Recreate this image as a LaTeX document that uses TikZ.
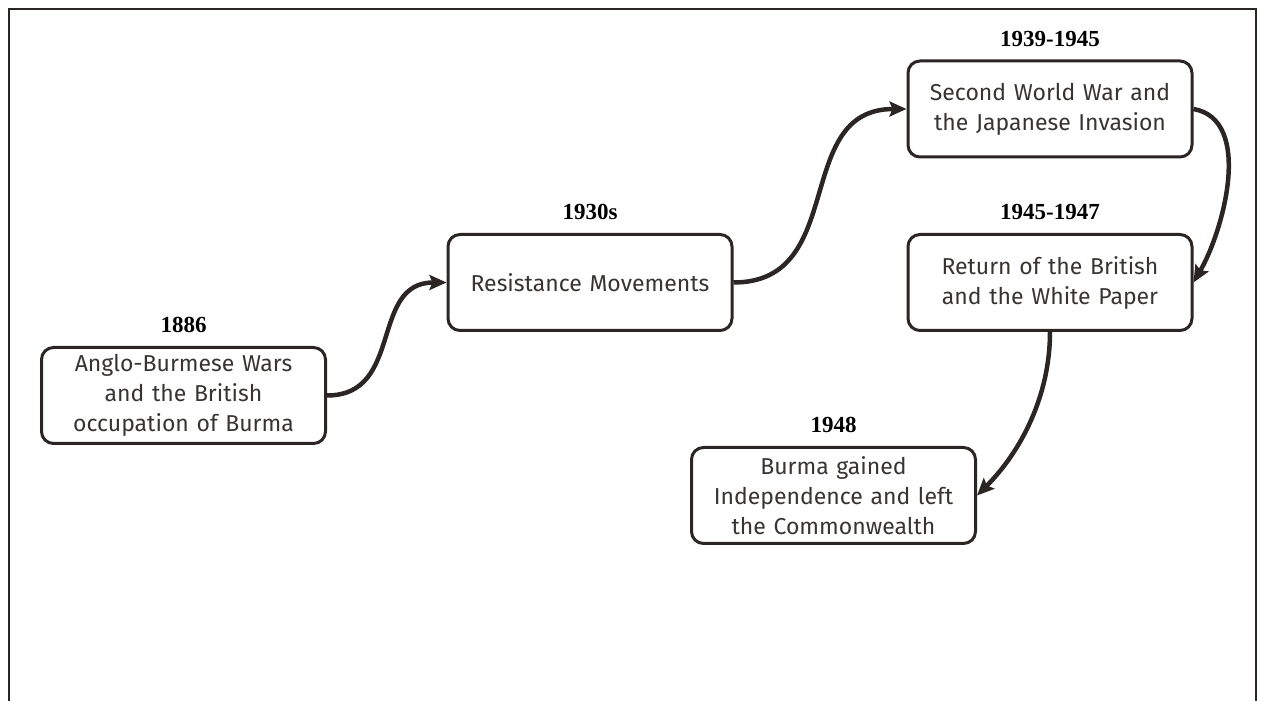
\documentclass[tikz,border=0pt]{standalone}
\usepackage{fontspec}
\setmainfont{Fira Sans}
\newfontfamily\yearfont{Liberation Serif}
\usetikzlibrary{positioning, arrows.meta}
\definecolor{ink}{RGB}{43, 38, 35}
\definecolor{words}{RGB}{55, 52, 50}

\begin{document}
\begin{tikzpicture}[x=1pt, y=1pt,
    event/.style={draw=ink, line width=3pt, rounded corners=12pt,
        minimum width=284pt, minimum height=96pt, text width=276pt,
        align=center, text=words, font=\fontsize{23}{30}\selectfont},
    year/.style={anchor=base, text=black,
        font=\yearfont\bfseries\fontsize{23}{26}\selectfont},
    link/.style={draw=ink, line width=4.5pt, -{Stealth[length=17pt, width=15pt, inset=3pt]}}]

    \useasboundingbox (0, 0) rectangle (1262, 701);
    \draw[ink, line width=2pt] (9, 0) |- (1256, 692) -- (1256, 0);

    % events
    \node[event] (burma) at (183.5, 305.5) {Anglo-Burmese Wars\\and the British\\occupation of Burma};
    \node[event] (resist) at (590, 418.5) {Resistance Movements};
    \node[event] (war) at (1050, 592) {Second World War and\\the Japanese Invasion};
    \node[event] (return) at (1050, 418.5) {Return of the British\\and the White Paper};
    \node[event] (indep) at (833.5, 205.5) {Burma gained\\Independence and left\\the Commonwealth};

    % years
    \node[year] (y1886) at ([yshift=13pt]burma.north) {1886};
    \node[year] (y1930) at ([yshift=13pt]resist.north) {1930s};
    \node[year] (y1939) at ([yshift=13pt]war.north) {1939-1945};
    \node[year] (y1945) at ([yshift=13pt]return.north) {1945-1947};
    \node[year] (y1948) at ([yshift=13pt]indep.north) {1948};

    % links
    \draw[link] (burma.east) to[out=0, in=180, looseness=1.2] (resist.west);
    \draw[link] (resist.east) to[out=0, in=180, looseness=1.2] (war.west);
    \draw[link] (war.east) to[out=-10, in=60, looseness=0.9] (return.east);
    \draw[link] (return.south) to[out=-90, in=45, looseness=0.9] (indep.east);

\end{tikzpicture}
\end{document}
